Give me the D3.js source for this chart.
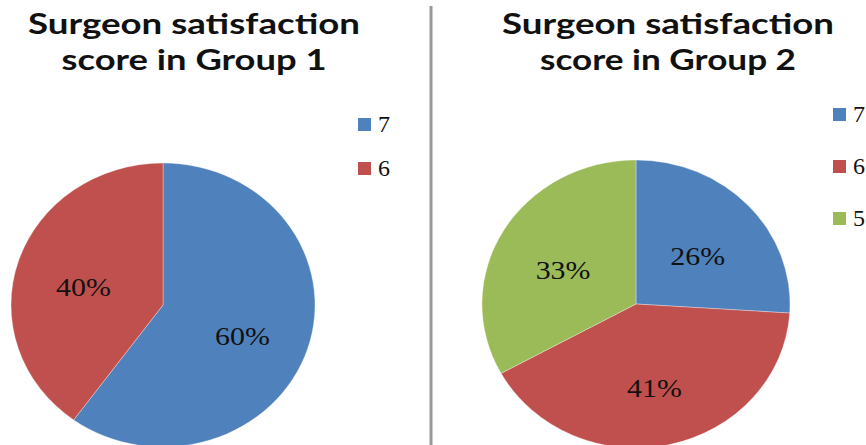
<!DOCTYPE html>
<html>
<head>
<meta charset="utf-8">
<script src="https://cdn.jsdelivr.net/npm/d3@7"></script>
<style>
  body { margin: 0; background: #fff; }
  svg { display: block; }
</style>
</head>
<body>
<div id="chart"></div>
<script>
// data
var group1Scores = ['7', '6'];
var group1Values = [60, 40];
var group2Scores = ['7', '6', '5'];
var group2Values = [26, 41, 33];
var scoreColors = { '7': '#4F81BD', '6': '#C0504D', '5': '#9BBB59' };

var width = 866, height = 445;

var svg = d3.select('#chart')
  .append('svg')
  .attr('width', width)
  .attr('height', height);

svg.append('rect')
  .attr('width', width)
  .attr('height', height)
  .attr('fill', '#fff');

// divider between the two charts
svg.append('line')
  .attr('x1', 431).attr('x2', 431)
  .attr('y1', 6).attr('y2', height)
  .attr('stroke', '#9a9a9a')
  .attr('stroke-width', 3);

drawPie({
  title: ['Surgeon satisfaction', 'score in Group 1'],
  titleX: 194, titleWidths: [332, 265],
  scores: group1Scores, values: group1Values,
  cx: 163, cy: 305, rx: 152, ry: 142,
  legendX: 358, legendY: 118, legendStep: 44
});

drawPie({
  title: ['Surgeon satisfaction', 'score in Group 2'],
  titleX: 668, titleWidths: [332, 256],
  scores: group2Scores, values: group2Values,
  cx: 636, cy: 304, rx: 154, ry: 144,
  legendX: 833, legendY: 108, legendStep: 52
});

///////////////////////////////////////////////////////////
function drawPie(opt) {
  var data = opt.scores.map(function(s, i) {
    return { score: s, value: opt.values[i] };
  });

  var pie = d3.pie()
    .sort(null)
    .value(d => d.value);

  var arcs = pie(data);
  var k = opt.ry / opt.rx;

  var arc = d3.arc().innerRadius(0).outerRadius(opt.rx);
  var labelArc = d3.arc().innerRadius(opt.rx * 0.55).outerRadius(opt.rx * 0.55);

  // slices (squashed a little vertically, like the picture)
  var g = svg.append('g')
    .attr('transform', `translate(${opt.cx},${opt.cy}) scale(1,${k})`);

  g.selectAll('path.slice')
    .data(arcs)
    .enter()
    .append('path')
    .attr('class', 'slice')
    .attr('d', arc)
    .attr('fill', d => scoreColors[d.data.score])
    .attr('stroke', 'rgba(255,255,255,0.35)')
    .attr('stroke-width', 1);

  // percent labels
  svg.selectAll(null)
    .data(arcs)
    .enter()
    .append('text')
    .attr('x', d => opt.cx + labelArc.centroid(d)[0])
    .attr('y', d => opt.cy + labelArc.centroid(d)[1] * k)
    .attr('dy', '0.6em')
    .attr('text-anchor', 'middle')
    .style('font-family', '"Liberation Serif", "Times New Roman", serif')
    .style('font-size', '26px')
    .attr('fill', '#111')
    .text(d => d.data.value + '%')
    .each(function() {
      var w = this.getComputedTextLength();
      d3.select(this)
        .attr('textLength', w * 1.15)
        .attr('lengthAdjust', 'spacingAndGlyphs');
    });

  // title
  svg.selectAll(null)
    .data(opt.title)
    .enter()
    .append('text')
    .attr('x', opt.titleX)
    .attr('y', (d, i) => 34 + i * 36)
    .attr('text-anchor', 'middle')
    .style('font-family', 'Lato, "Open Sans", sans-serif')
    .style('font-weight', 'bold')
    .style('font-size', '29px')
    .attr('fill', '#111')
    .attr('textLength', (d, i) => opt.titleWidths[i])
    .attr('lengthAdjust', 'spacingAndGlyphs')
    .text(d => d);

  // legend
  var legend = svg.selectAll(null)
    .data(opt.scores)
    .enter()
    .append('g')
    .attr('transform', (d, i) => `translate(${opt.legendX},${opt.legendY + i * opt.legendStep})`);

  legend.append('rect')
    .attr('width', 13)
    .attr('height', 13)
    .attr('fill', d => scoreColors[d]);

  legend.append('text')
    .attr('x', 20)
    .attr('y', 14)
    .style('font-family', '"Liberation Serif", "Times New Roman", serif')
    .style('font-size', '24px')
    .attr('fill', '#111')
    .text(d => d);
}
</script>
</body>
</html>
